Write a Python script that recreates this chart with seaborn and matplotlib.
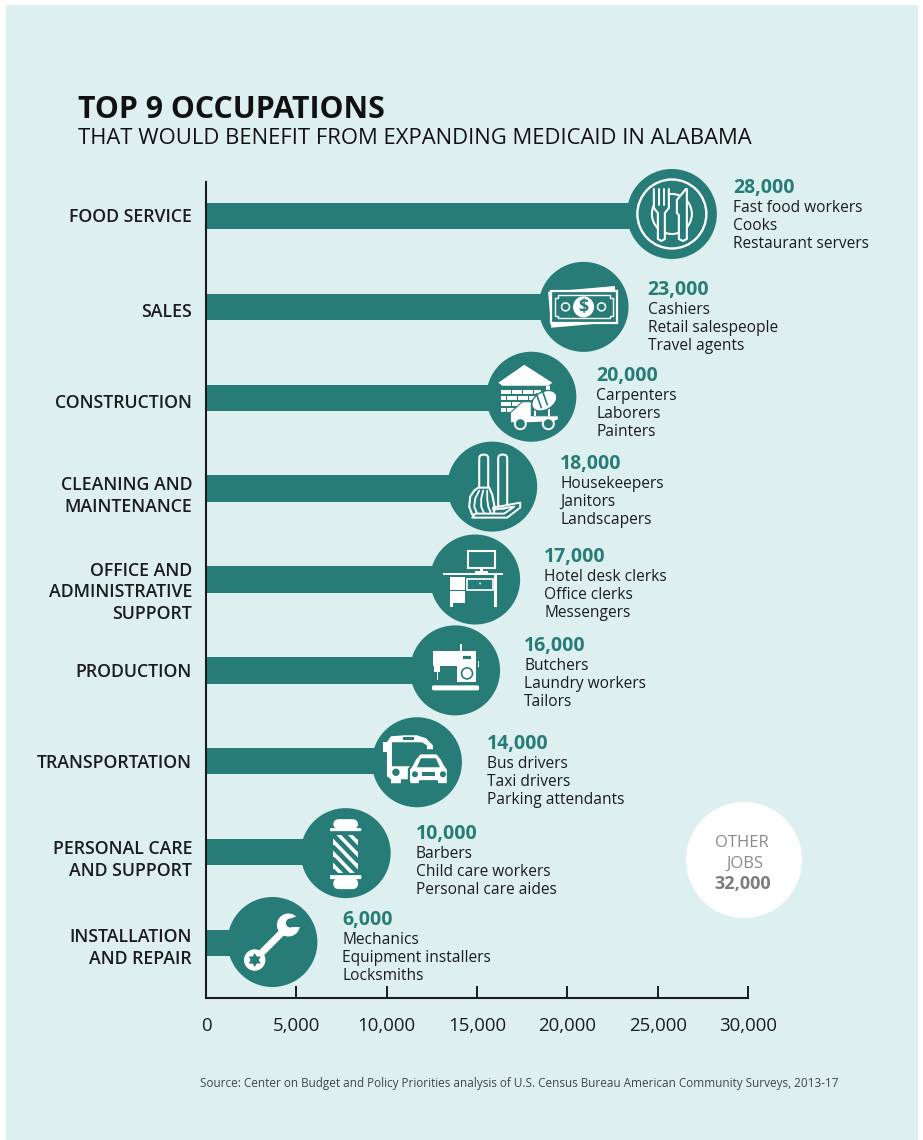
import numpy as np
import pandas as pd
import matplotlib
matplotlib.use('Agg')
import matplotlib.pyplot as plt
import matplotlib.patches as mpatches
from matplotlib.transforms import ScaledTranslation
import seaborn as sns

occupations = ['FOOD SERVICE', 'SALES', 'CONSTRUCTION', 'CLEANING AND\nMAINTENANCE',
               'OFFICE AND\nADMINISTRATIVE\nSUPPORT', 'PRODUCTION', 'TRANSPORTATION',
               'PERSONAL CARE\nAND SUPPORT', 'INSTALLATION\nAND REPAIR']
jobs = [28000, 23000, 20000, 18000, 17000, 16000, 14000, 10000, 6000]
examples = [['Fast food workers', 'Cooks', 'Restaurant servers'],
            ['Cashiers', 'Retail salespeople', 'Travel agents'],
            ['Carpenters', 'Laborers', 'Painters'],
            ['Housekeepers', 'Janitors', 'Landscapers'],
            ['Hotel desk clerks', 'Office clerks', 'Messengers'],
            ['Butchers', 'Laundry workers', 'Tailors'],
            ['Bus drivers', 'Taxi drivers', 'Parking attendants'],
            ['Barbers', 'Child care workers', 'Personal care aides'],
            ['Mechanics', 'Equipment installers', 'Locksmiths']]
x_ticks = [0, 5000, 10000, 15000, 20000, 25000, 30000]
other_jobs = 32000

# layout tweaks, in pixels
badge_back = [40, 38, 36, 39, 38, 40, 42, 41, 42]
badge_dy = [-2, 0, -1, -2, 0, 0, 1, 1, -1]
note_dx = [61, 64, 65, 68, 69, 69, 70, 70, 70]
note_dy = [-28, -17, -22, -25, -23, -24, -17, -18, -23]
label_dy = [-1, 3, 3, 3, 9, 0, 0, 4, 1]

TEAL = '#277C78'
PANEL = '#DDF0EF'
INK = '#1c1c1c'
W, H = 923, 1140

sns.set_theme(style='white')
plt.rcParams['font.family'] = ['Open Sans', 'DejaVu Sans']

fig = plt.figure(figsize=(W / 100, H / 100), dpi=100, facecolor='white')

bg = fig.add_axes([0, 0, 1, 1], zorder=0)
bg.set_xlim(0, W)
bg.set_ylim(H, 0)
bg.axis('off')
bg.add_patch(mpatches.Rectangle((6, 5), 912, 1135, fc=PANEL, ec='none'))

ax = fig.add_axes([206 / W, 1 - 998 / H, 542 / W, 816 / H], zorder=1)
ax.patch.set_alpha(0)
df = pd.DataFrame({'occupation': occupations, 'jobs': jobs})
sns.barplot(data=df, x='jobs', y='occupation', color=TEAL, saturation=1, width=0.29, linewidth=0, ax=ax)
ax.set_xlim(0, 30000)
ax.set_ylim(8.605, -0.374)
ax.set_xlabel('')
ax.set_ylabel('')
ax.set_xticks(x_ticks)
ax.set_xticklabels([f'{t:,}' for t in x_ticks], fontsize=13.4, color=INK)
ax.tick_params(axis='x', direction='in', length=9, width=1.4, color=INK, pad=14, bottom=True)
ax.tick_params(axis='y', length=0, pad=10)
for name, spine in ax.spines.items():
    spine.set_visible(name in ('left', 'bottom'))
    spine.set_color(INK)
    spine.set_linewidth(1.5)
for lab, dy in zip(ax.get_yticklabels(), label_dy):
    lab.set_fontsize(12.8)
    lab.set_fontweight('semibold')
    lab.set_color(INK)
    lab.set_multialignment('right')
    lab.set_linespacing(1.28)
    lab.set_transform(lab.get_transform() + ScaledTranslation(0, -dy / 100, fig.dpi_scale_trans))

top = fig.add_axes([0, 0, 1, 1], zorder=2)
top.set_xlim(0, W)
top.set_ylim(H, 0)
top.axis('off')
top.patch.set_alpha(0)


# small drawing helpers for the icons, all in pixels round the badge centre
def poly(cx, cy, pts, fc='white', ec='none', lw=0, z=5):
    top.add_patch(mpatches.Polygon([(cx + a, cy + b) for a, b in pts], closed=True, fc=fc, ec=ec, lw=lw,
                                   zorder=z, joinstyle='round'))


def box(cx, cy, x0, y0, x1, y1, fc='white', ec='none', lw=0, z=5, rad=0):
    if rad:
        top.add_patch(mpatches.FancyBboxPatch((cx + x0, cy + y0), x1 - x0, y1 - y0,
                                              boxstyle=f'round,pad=0,rounding_size={rad}',
                                              fc=fc, ec=ec, lw=lw, zorder=z))
    else:
        top.add_patch(mpatches.Rectangle((cx + x0, cy + y0), x1 - x0, y1 - y0, fc=fc, ec=ec, lw=lw, zorder=z))


def disc(cx, cy, x, y, r, fc='white', ec='none', lw=0, z=5):
    top.add_patch(mpatches.Circle((cx + x, cy + y), r, fc=fc, ec=ec, lw=lw, zorder=z))


def seg(cx, cy, xs, ys, lw=1.4, color='white', z=5):
    top.plot([cx + v for v in xs], [cy + v for v in ys], color=color, lw=lw, zorder=z, solid_capstyle='round')


def icon_food(cx, cy):
    disc(cx, cy, 0, 0, 34.5, fc='none', ec='white', lw=1.7)
    disc(cx, cy, 0, 0, 20, fc='none', ec='white', lw=1.5)
    # fork
    poly(cx, cy, [(-18, -25), (-18, -6), (-14, -1), (-14, 25), (-10.5, 27), (-7, 25), (-7, -1), (-3, -6), (-3, -25)],
         fc=TEAL, z=6)
    seg(cx, cy, [-18, -18, -14, -14, -10.5, -7, -7, -3, -3], [-25, -6, -1, 25, 27, 25, -1, -6, -25], lw=1.5, z=7)
    for x in (-13, -8):
        seg(cx, cy, [x, x], [-25, -9], lw=1.4, z=7)
    # knife
    poly(cx, cy, [(5, -14), (14, -25), (15, -25), (15, 25), (11, 27), (7, 25), (7, 1), (5, -1)],
         fc=TEAL, ec='white', lw=1.5, z=6)


def icon_money(cx, cy):
    top.add_patch(mpatches.Rectangle((cx - 34, cy - 18), 67, 36, fc='white', ec='none', zorder=5,
                                     angle=-5, rotation_point='center'))
    box(cx, cy, -33, -16, 33, 16, fc=TEAL, ec='white', lw=1.6, z=6)
    poly(cx, cy, [(-26, -11.5), (26, -11.5), (26, -9), (29, -9), (29, 9), (26, 9), (26, 11.5), (-26, 11.5),
                  (-26, 9), (-29, 9), (-29, -9), (-26, -9)], fc='none', ec='white', lw=1.0, z=6)
    disc(cx, cy, 0, 0, 10.5, z=7)
    disc(cx, cy, -18, 0, 4, fc='none', ec='white', lw=1.1, z=7)
    disc(cx, cy, 18, 0, 4, fc='none', ec='white', lw=1.1, z=7)
    top.text(cx, cy + 0.5, '$', color=TEAL, fontsize=13, fontweight='bold', ha='center', va='center', zorder=8)


def icon_construction(cx, cy):
    poly(cx, cy, [(-7, -32), (21, -14), (17, -11), (-29, -11), (-33, -14)])
    box(cx, cy, 15, -11, 19, 0)
    for row in range(4):
        y = -7 + row * 6
        for k in range(4):
            x0 = -30 + k * 11 - (row % 2) * 5
            x0 = max(x0, -30)
            x1 = min(-30 + (k + 1) * 11 - (row % 2) * 5 - 1, 10 - row * 6)
            if x1 > x0:
                box(cx, cy, x0, y, x1, y + 4.6)
    # truck
    poly(cx, cy, [(-21, 26), (-21, 16), (-9, 5), (0, 5), (0, 19), (27, 19), (27, 23), (22, 25), (-2, 26)], ec=TEAL, lw=0.8, z=6)
    disc(cx, cy, -11, 27, 5.5, fc=TEAL, ec='white', lw=1.4, z=7)
    disc(cx, cy, 17, 27, 5.5, fc=TEAL, ec='white', lw=1.4, z=7)
    top.add_patch(mpatches.Ellipse((cx + 13, cy + 4), 27, 18, angle=-30, fc='white', ec=TEAL, lw=1.0, zorder=7))
    seg(cx, cy, [5, 10], [-3, 11], lw=1.2, color=TEAL, z=8)
    seg(cx, cy, [11, 16], [-6, 8], lw=1.2, color=TEAL, z=8)
    box(cx, cy, 3, 13, 5, 19, z=6)
    box(cx, cy, 17, 12, 19, 19, z=6)


def icon_cleaning(cx, cy):
    box(cx, cy, -13, -32, -4, 6, fc=TEAL, ec='white', lw=1.5, rad=4)
    box(cx, cy, 6, -32, 15, 22, fc=TEAL, ec='white', lw=1.5, rad=4)
    poly(cx, cy, [(-14, 1), (-3, 1), (0, 8), (2, 18), (2, 28), (-20, 28), (-23, 20), (-22, 10), (-18, 4)],
         fc=TEAL, ec='white', lw=1.5, z=6)
    seg(cx, cy, [-13, -17, -18, -15], [4, 12, 20, 27], lw=1.3, z=7)
    seg(cx, cy, [-9, -11, -11, -8], [4, 12, 20, 27], lw=1.3, z=7)
    seg(cx, cy, [-5, -5, -4, -1], [4, 12, 20, 27], lw=1.3, z=7)
    poly(cx, cy, [(1, 21), (28, 16), (28, 21), (15, 31), (-20, 31), (-17, 27), (12, 27), (22, 20), (1, 23)],
         fc=TEAL, ec='white', lw=1.4, z=8)


def icon_office(cx, cy):
    box(cx, cy, -7, -29, 20, -12, fc=TEAL, ec='white', lw=1.5)
    box(cx, cy, 5, -12, 8, -8)
    box(cx, cy, 0, -8.5, 13, -7)
    box(cx, cy, -32, -7, 28, -5)
    box(cx, cy, -25, -3, -10, 10)
    box(cx, cy, -25, 11, -10, 23)
    box(cx, cy, -25, 23, -22, 27)
    box(cx, cy, -8, -1, 18, 10, fc=TEAL, ec='white', lw=1.2)
    disc(cx, cy, 5, 4, 0.9)
    box(cx, cy, 19, -5, 22, 27)


def icon_production(cx, cy):
    poly(cx, cy, [(-22, -19), (21, -19), (21, 12), (2, 12), (2, -4), (-22, -4)], fc='white')
    box(cx, cy, 7, -15, 16, -11, fc=TEAL, ec='white', lw=0.6, z=6)
    disc(cx, cy, 12, 3, 5.5, fc='white', ec=TEAL, lw=1.2, z=6)
    box(cx, cy, -21, -4, -15, 2)
    box(cx, cy, -18.5, 2, -17, 10)
    box(cx, cy, 5.3, -26, 6.7, -19)
    box(cx, cy, 22.5, -9, 24, -3)
    box(cx, cy, -23, 15, 24, 20, rad=1.5)


def icon_transport(cx, cy):
    # bus shell, the window is left open so the badge shows through
    poly(cx, cy, [(-30, -20), (-26, -26), (-12, -27), (0, -27), (9, -24), (16, -17), (16, -13), (10, -13), (10, -17),
                  (5, -20), (-25, -20), (-25, 4), (-7, 4), (-7, 17), (-16, 17), (-16, 21), (-26, 21), (-26, 17), (-30, 14)])
    box(cx, cy, -34, -20, -30, -10)
    box(cx, cy, -14, -25, -3, -22, fc=TEAL, z=6)
    disc(cx, cy, -21, 10, 3.7, fc=TEAL, z=6)
    # taxi on top of the bus
    poly(cx, cy, [(-8, 7), (-5, 3), (-2, -3), (3, -9), (20, -9), (25, -3), (28, 3), (31, 7), (31, 19), (31, 22),
                  (20, 22), (20, 19), (3, 19), (3, 22), (-7, 22), (-8, 19)], fc='white', ec=TEAL, lw=1.6, z=7)
    poly(cx, cy, [(0, 5), (4, -4), (19, -4), (23, 5)], fc=TEAL, z=8)
    disc(cx, cy, -2, 12, 3, fc=TEAL, z=8)
    disc(cx, cy, 26, 12, 3, fc=TEAL, z=8)
    box(cx, cy, 5, 10, 18, 14, fc=TEAL, z=8)


def icon_barber(cx, cy):
    box(cx, cy, -12.5, -34, 12.5, -24, rad=6)
    box(cx, cy, -15.7, -25, 15.7, -22, rad=1)
    box(cx, cy, -12.5, -18, 12.5, 20)
    clip = mpatches.Rectangle((cx - 12.5, cy - 18), 25, 38, transform=top.transData)
    for k in range(-4, 5):
        y0 = -18 + k * 12
        line, = top.plot([cx - 12.5, cx + 12.5], [cy + y0, cy + y0 + 26], color=TEAL, lw=3.4, zorder=6)
        line.set_clip_path(clip)
    box(cx, cy, -15.7, 22, 15.7, 26, rad=1)
    box(cx, cy, -12.5, 25, 12.5, 36, rad=6)


def icon_wrench(cx, cy):
    seg(cx, cy, [-18, 12], [18, -12], lw=5)
    disc(cx, cy, -17.7, 18, 10.7)
    top.add_patch(mpatches.RegularPolygon((cx - 17.7, cy + 18), 3, radius=7, fc=TEAL, ec='none', zorder=6))
    top.add_patch(mpatches.RegularPolygon((cx - 17.7, cy + 18), 3, radius=7, orientation=np.pi, fc=TEAL, ec='none', zorder=6))
    disc(cx, cy, 16, -17, 11.5)
    disc(cx, cy, 18, -19, 4.5, fc=TEAL, z=6)
    poly(cx, cy, [(15, -22), (23.5, -25.5), (35, -25), (35, -15), (27, -15), (19, -15)], fc=TEAL, z=6)


icons = [icon_food, icon_money, icon_construction, icon_cleaning, icon_office,
         icon_production, icon_transport, icon_barber, icon_wrench]

# badges, icons and notes hang off each bar end
fig.canvas.draw()
for i, (val, names) in enumerate(zip(jobs, examples)):
    disp = ax.transData.transform((val, i))
    px = disp[0]
    py = H - disp[1]
    cx = px - badge_back[i]
    cy = py + badge_dy[i]
    top.add_patch(mpatches.Circle((cx, cy), 45, fc=TEAL, ec='none', zorder=4))
    icons[i](cx, cy)
    nx = cx + note_dx[i]
    ny = py + note_dy[i]
    top.text(nx, ny, f'{val:,}', color=TEAL, fontsize=14, fontweight='bold', va='center', ha='left')
    for k, nm in enumerate(names):
        top.text(nx, ny + 20 + k * 18, nm, color=INK, fontsize=11.2, va='center', ha='left')

# other jobs bubble
top.add_patch(mpatches.Circle((744, 860), 58, fc='white', ec='none', zorder=3))
top.text(742, 843, 'OTHER', color='#8a8a8a', fontsize=12, ha='center', va='center', zorder=5)
top.text(745, 864, 'JOBS', color='#8a8a8a', fontsize=12, ha='center', va='center', zorder=5)
top.text(743, 884, f'{other_jobs:,}', color='#7d7d7d', fontsize=13, fontweight='bold', ha='center', va='center', zorder=5)

top.text(78, 110, 'TOP 9 OCCUPATIONS', color='#111111', fontsize=21.8, fontweight='bold', va='center')
top.text(78, 139, 'THAT WOULD BENEFIT FROM EXPANDING MEDICAID IN ALABAMA', color='#111111', fontsize=15.85,
         va='center')
top.text(200, 1084, 'Source: Center on Budget and Policy Priorities analysis of U.S. Census Bureau American Community Surveys, 2013-17',
         color='#444444', fontsize=8.45, va='center')

fig.savefig('out.png', dpi=100, facecolor='white')
